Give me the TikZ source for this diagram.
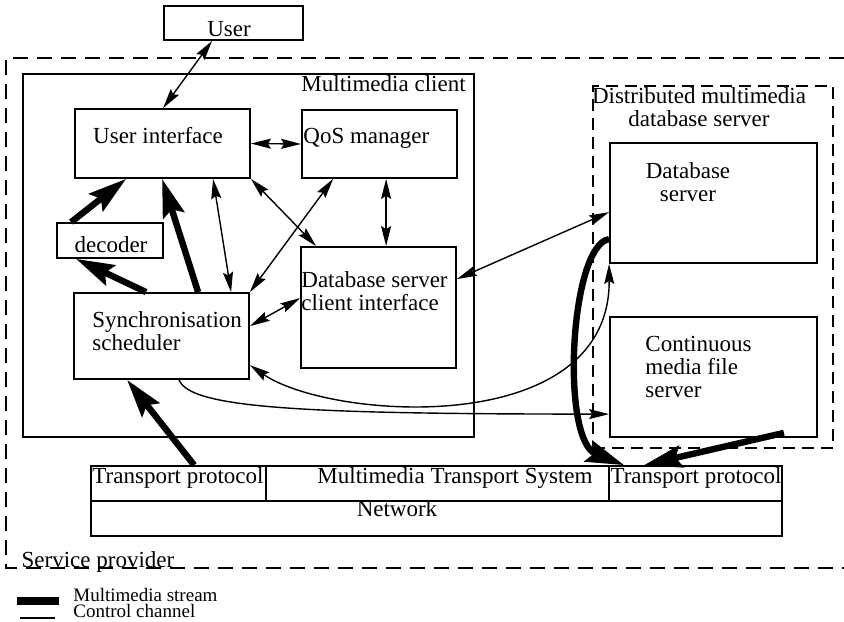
\documentclass[tikz,border=0pt]{standalone}
\usepackage{fontspec}
\setmainfont{Liberation Serif}
\usetikzlibrary{arrows.meta, positioning, calc}
\tikzset{
    box/.style={rectangle, draw, line width=0.9pt, inner sep=0pt},
    lbl/.style={inner sep=0pt, font=\fontsize{11.5}{11.5}\selectfont},
    leg/.style={inner sep=0pt, font=\fontsize{9.5}{9.5}\selectfont},
    ctrl/.style={line width=0.7pt, {Stealth[length=10pt,width=5pt,inset=1.5pt]}-{Stealth[length=10pt,width=5pt,inset=1.5pt]}},
    ctrlone/.style={line width=0.7pt, -{Stealth[length=10pt,width=5pt,inset=1.5pt]}},
    stream/.style={line width=3.2pt, -{Stealth[length=19pt,width=11pt,inset=3pt]}},
    region/.style={line width=0.9pt, dash pattern=on 7.5pt off 4.5pt},
    server/.style={box, dash pattern=on 6pt off 3.5pt}
}

\begin{document}
\begin{tikzpicture}[x=0.5pt, y=-0.5pt]
            \useasboundingbox (0,0) rectangle (844,621);

            % service provider frame, open on the right
            \draw[region] (844,58) -- (6,58) -- (6,568) -- (844,568);
            \node[lbl, anchor=base] (sp-t) at (98,567) {Service provider};

            % boxes
            \node[box, minimum width=69.5pt, minimum height=17pt] (user) at (233.5,23) {};
            \node[box, minimum width=225.5pt, minimum height=181.5pt] (client) at (248.5,255.5) {};
            \node[box, minimum width=87.5pt, minimum height=34.5pt] (ui) at (162.5,143.5) {};
            \node[box, minimum width=77.5pt, minimum height=34pt] (qos) at (379.5,144) {};
            \node[box, minimum width=53pt, minimum height=17.5pt] (dec) at (110,240.5) {};
            \node[box, minimum width=77.5pt, minimum height=60.5pt] (dbci) at (378.5,307.5) {};
            \node[box, minimum width=87.5pt, minimum height=43pt] (sync) at (161.5,336) {};
            \node[server, minimum width=120pt, minimum height=181pt] (dmds) at (713,267) {};
            \node[box, minimum width=103.5pt, minimum height=60pt] (dbs) at (713.5,203) {};
            \node[box, minimum width=103.5pt, minimum height=60pt] (cmfs) at (713.5,377) {};
            \node[box, minimum width=87.5pt, minimum height=17.5pt] (tpl) at (178.5,483.5) {};
            \node[box, minimum width=171.5pt, minimum height=17.5pt] (mts) at (437.5,483.5) {};
            \node[box, minimum width=86.5pt, minimum height=17.5pt] (tpr) at (695.5,483.5) {};
            \node[box, minimum width=345.5pt, minimum height=17.5pt] (net) at (436.5,518.5) {};

            % texts
            \node[lbl, anchor=base] (user-t) at (229,36) {User};
            \node[lbl, anchor=base east] (client-t) at (466,91) {Multimedia client};
            \node[lbl, anchor=base] (ui-t) at (158,143) {User interface};
            \node[lbl, anchor=base west] (qos-t) at (303,143) {QoS manager};
            \node[lbl, anchor=base] (dec-t) at (111,252) {decoder};
            \node[lbl, anchor=north west, align=left] (dbci-t) at (301,271) {Database server\\client interface};
            \node[lbl, anchor=north west, align=left] (sync-t) at (92,311) {Synchronisation\\scheduler};
            \node[lbl, anchor=north, align=center] (dmds-t) at (699,87) {Distributed multimedia\\database server};
            \node[lbl, anchor=north, align=center] (dbs-t) at (688,162) {Database\\server};
            \node[lbl, anchor=north west, align=left] (cmfs-t) at (645,336) {Continuous\\media file\\server};
            \node[lbl, anchor=base] (tpl-t) at (178,483) {Transport protocol};
            \node[lbl, anchor=base] (mts-t) at (455,483) {Multimedia Transport System};
            \node[lbl, anchor=base] (tpr-t) at (696,483) {Transport protocol};
            \node[lbl, anchor=base] (net-t) at (397,516) {Network};

            % control channels
            \draw[ctrl] ($(user.south west)+(49,0)$) -- ($(ui.north west)+(89,0)$);
            \draw[ctrl] (ui.east) -- (qos.west);
            \draw[ctrl] ($(ui.south west)+(139,0)$) -- ($(sync.north west)+(158,0)$);
            \draw[ctrl] (ui.south east) -- ($(dbci.north west)+(16,0)$);
            \draw[ctrl] ($(qos.south west)+(32,0)$) -- (sync.north east);
            \draw[ctrl] ($(qos.south west)+(85,0)$) -- ($(dbci.north west)+(86,0)$);
            \draw[ctrl] ($(sync.north east)+(0,34)$) -- ($(dbci.north west)+(0,52)$);
            \draw[ctrl] ($(dbci.north east)+(0,33)$) -- ($(dbs.north west)+(0,70)$);
            \draw[ctrl] ($(sync.north east)+(0,73)$) .. controls (330,420) and (610,440) .. (dbs.south west);
            \draw[ctrlone] ($(sync.south west)+(106,0)$) .. controls (190,408) and (300,414) .. ($(cmfs.north west)+(0,98)$);

            % multimedia streams
            \draw[stream] ($(dec.north west)+(15,0)$) -- ($(ui.south west)+(52,0)$);
            \draw[stream] ($(sync.north west)+(73,0)$) -- ($(dec.south west)+(20,0)$);
            \draw[stream] ($(sync.north west)+(125,0)$) -- ($(ui.south west)+(88,0)$);
            \draw[stream] ($(tpl.north west)+(104,0)$) -- ($(sync.south west)+(54,0)$);
            \draw[stream] ($(dbs.north west)+(0,97)$) .. controls (570,245) and (560,440) .. ($(tpr.north west)+(16,0)$);
            \draw[stream] ($(cmfs.south east)+(-34,-5)$) -- ($(tpr.north west)+(36,0)$);

            % legend
            \coordinate (ms-a) at (17,601);
            \coordinate (ms-b) at (59,601);
            \coordinate (cc-a) at (20,618);
            \coordinate (cc-b) at (55,618);
            \draw[line width=4pt] (ms-a) -- (ms-b);
            \draw[line width=0.7pt] (cc-a) -- (cc-b);
            \node[leg, anchor=base west] (ms-t) at (73,601) {Multimedia stream};
            \node[leg, anchor=base west] (cc-t) at (73,617) {Control channel};
        \end{tikzpicture}
\end{document}
